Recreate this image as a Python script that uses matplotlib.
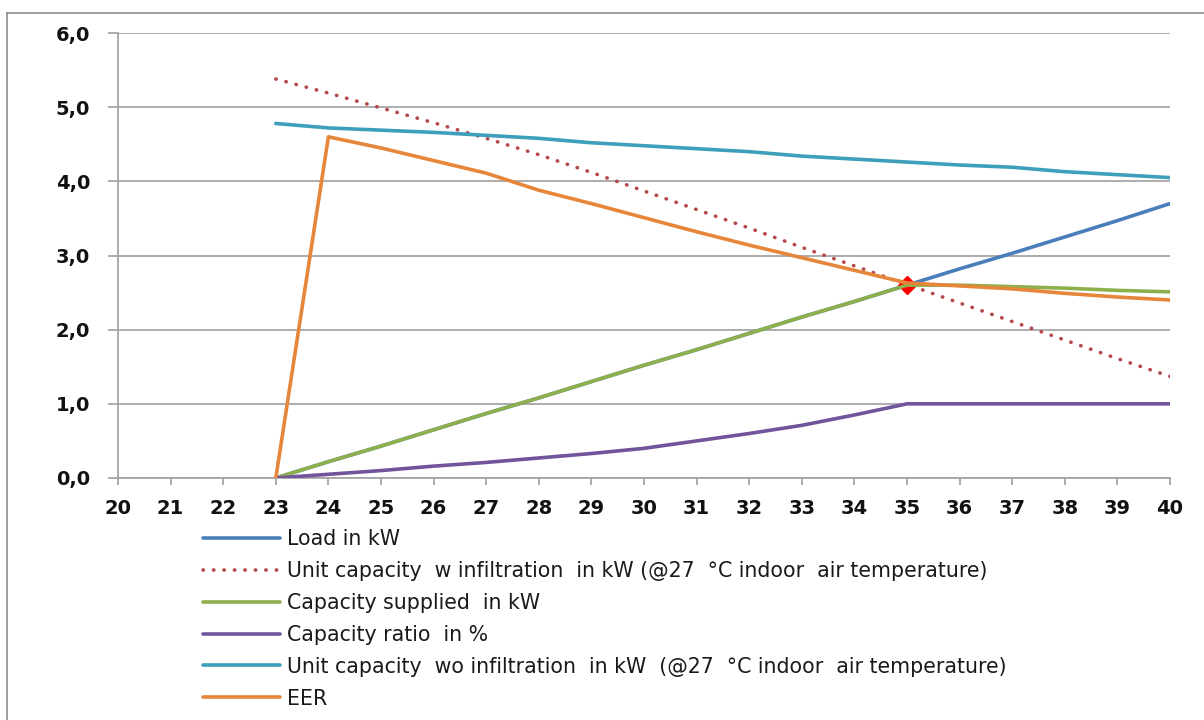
import matplotlib
matplotlib.use("Agg")
import matplotlib.pyplot as plt
from matplotlib.lines import Line2D
from matplotlib.ticker import FuncFormatter, MultipleLocator

# Outdoor temperature (°C)
temps = [23, 24, 25, 26, 27, 28, 29, 30, 31, 32, 33, 34, 35, 36, 37, 38, 39, 40]

load_kw = [0.00, 0.22, 0.43, 0.65, 0.87, 1.08, 1.30, 1.52, 1.73, 1.95, 2.17, 2.38, 2.60,
           2.82, 3.03, 3.25, 3.47, 3.70]
cap_w_infiltration = [5.38, 5.19, 4.99, 4.79, 4.58, 4.36, 4.12, 3.87, 3.62, 3.37, 3.11,
                      2.86, 2.61, 2.36, 2.11, 1.86, 1.61, 1.37]
cap_supplied = [0.00, 0.22, 0.43, 0.65, 0.87, 1.08, 1.30, 1.52, 1.73, 1.95, 2.17, 2.38,
                2.60, 2.60, 2.58, 2.56, 2.53, 2.51]
cap_ratio = [0.00, 0.05, 0.10, 0.16, 0.21, 0.27, 0.33, 0.40, 0.50, 0.60, 0.71, 0.85,
             1.00, 1.00, 1.00, 1.00, 1.00, 1.00]
cap_wo_infiltration = [4.78, 4.72, 4.69, 4.66, 4.62, 4.58, 4.52, 4.48, 4.44, 4.40, 4.34,
                       4.30, 4.26, 4.22, 4.19, 4.13, 4.09, 4.05]
eer = [0.00, 4.60, 4.45, 4.28, 4.11, 3.88, 3.70, 3.51, 3.32, 3.14, 2.97, 2.80, 2.63,
       2.59, 2.55, 2.49, 2.44, 2.40]

balance_temp = 35
balance_kw = 2.60

labels = [
    "Load in kW",
    "Unit capacity  w infiltration  in kW (@27  °C indoor  air temperature)",
    "Capacity supplied  in kW",
    "Capacity ratio  in %",
    "Unit capacity  wo infiltration  in kW  (@27  °C indoor  air temperature)",
    "EER",
]
colors = ["#4A7EBB", "#B5484A", "#8DB04C", "#72549B", "#3E9FBA", "#E6863A"]

W, H = 1204, 720
fig = plt.figure(figsize=(W / 100, H / 100), dpi=100)
fig.patch.set_facecolor("white")

# outer chart border
fig.add_artist(Line2D([7 / W, 7 / W], [0, 1 - 13 / H], transform=fig.transFigure,
                      color="#8C8C8C", lw=1.2))
fig.add_artist(Line2D([7 / W, 1], [1 - 13 / H, 1 - 13 / H], transform=fig.transFigure,
                      color="#8C8C8C", lw=1.2))

ax = fig.add_axes([118 / W, 242 / H, (1170 - 118) / W, (478 - 33) / H])

lw = 2.6
dotted = (0, (0.1, 2.8))
series = [load_kw, cap_w_infiltration, cap_supplied, cap_ratio, cap_wo_infiltration, eer]
handles = []
for i, (vals, lab, col) in enumerate(zip(series, labels, colors)):
    if i == 1:
        h, = ax.plot(temps, vals, color=col, lw=lw, linestyle=dotted,
                     dash_capstyle="round", label=lab, zorder=3)
    else:
        h, = ax.plot(temps, vals, color=col, lw=lw, solid_capstyle="round",
                     solid_joinstyle="round", label=lab, zorder=3 + i * 0.1)
    handles.append(h)

ax.plot([balance_temp], [balance_kw], marker="D", color="#FF0000", ms=9,
        linestyle="none", zorder=3.15)

ax.set_xlim(20, 40)
ax.set_ylim(0, 6)
ax.xaxis.set_major_locator(MultipleLocator(1))
ax.yaxis.set_major_locator(MultipleLocator(1))
ax.yaxis.set_major_formatter(FuncFormatter(lambda v, p: f"{v:.1f}".replace(".", ",")))

ax.grid(axis="y", color="#A6A6A6", lw=1.3)
ax.set_axisbelow(True)
for s in ["top", "right"]:
    ax.spines[s].set_visible(False)
for s in ["left", "bottom"]:
    ax.spines[s].set_color("#A6A6A6")
    ax.spines[s].set_linewidth(1.3)

ax.tick_params(axis="y", length=7, width=1.3, color="#A6A6A6", pad=13,
               labelsize=14)
ax.tick_params(axis="x", length=5, width=1.3, color="#A6A6A6", pad=10,
               labelsize=14)
for t in ax.get_xticklabels() + ax.get_yticklabels():
    t.set_fontweight("bold")
    t.set_color("#111111")

fs = 14.8
leg = ax.legend(handles=handles, loc="upper left",
                bbox_to_anchor=(203 / W, 1 - 529 / H), bbox_transform=fig.transFigure,
                frameon=False, fontsize=fs, handlelength=3.75, handletextpad=0.34,
                labelspacing=0.58, borderpad=0, borderaxespad=0)
for t in leg.get_texts():
    t.set_color("#1A1A1A")
for lh in leg.get_lines():
    lh.set_linewidth(2.6)

fig.savefig("out.png", dpi=100, facecolor="white")
